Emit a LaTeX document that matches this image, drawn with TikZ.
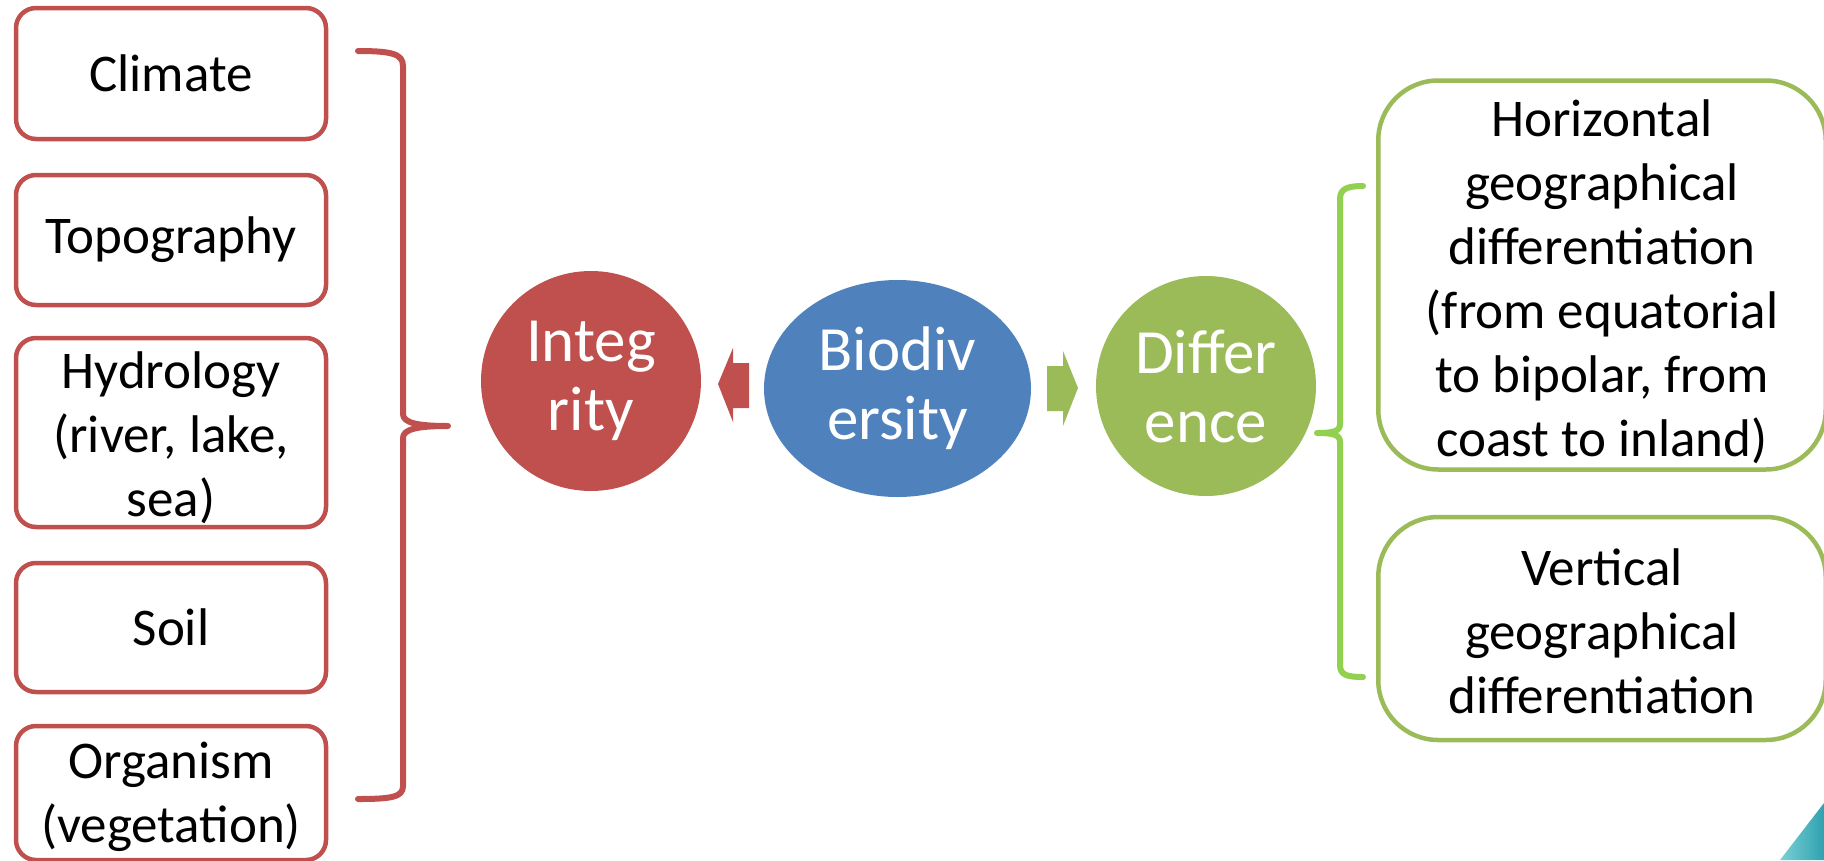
\documentclass[tikz,border=0pt]{standalone}
\usepackage{fontspec}
\setmainfont{Carlito}
\usetikzlibrary{shapes.geometric}
\definecolor{redc}{HTML}{C0504D}
\definecolor{bluec}{HTML}{4F81BD}
\definecolor{greenc}{HTML}{9BBB59}
\definecolor{lightg}{HTML}{92D050}
\definecolor{tealA}{HTML}{7AD0D6}
\definecolor{tealB}{HTML}{2FA2AF}
\begin{document}
\begin{tikzpicture}[x=1pt,y=-1pt,
  factor/.style={draw=redc, line width=4.5pt, rounded corners=20pt,
    minimum width=310pt, align=center, inner sep=0pt,
    font=\fontsize{53}{64}\selectfont},
  zone/.style={draw=greenc, line width=4.5pt, rounded corners=60pt,
    minimum width=447.5pt, align=center, inner sep=0pt,
    font=\fontsize{53}{64}\selectfont},
  words/.style={align=center, inner sep=0pt, font=\fontsize{53}{64}\selectfont},
  hub/.style={text=white, align=center, inner sep=0pt,
    font=\fontsize{63}{69}\selectfont},
  brace/.style={line width=6pt, line cap=round, line join=round}
]
\useasboundingbox (0,0) rectangle (1824,860);

% factors on the left
\node[factor, minimum height=131pt] (climate) at (171,73.5) {Climate};
\node[factor, minimum height=130pt] (topo) at (171,240) {Topography};
\node[factor, minimum height=189pt] (hydro) at (171,432.5) {};
\node[words] (hydrotext) at (171,438) {Hydrology\\(river, lake,\\sea)};
\node[factor, minimum height=129pt] (soil) at (171,627.5) {Soil};
\node[factor, minimum height=134pt] (organism) at (171,793) {};
\node[words] (organismtext) at (171,797) {Organism\\(vegetation)};

% central concepts
\node[hub, circle, fill=redc, minimum size=220pt] (integ) at (591,381) {Integ\\rity};
\node[hub, ellipse, fill=bluec, minimum width=267pt, minimum height=217pt] (bio) at (897.5,388.5) {Biodiv\\ersity};
\node[hub, circle, fill=greenc, minimum size=220pt] (diff) at (1206,386) {Differ\\ence};

% block arrows
\fill[redc] (718,384) -- (733,348) -- (733,363) -- (749,363) -- (749,408)
  -- (733,408) -- (733,422) -- cycle;
\fill[greenc] (1078,388) -- (1063,351) -- (1063,366) -- (1047,366) -- (1047,411)
  -- (1063,411) -- (1063,426) -- cycle;

% differentiation boxes on the right
\node[zone, minimum height=389pt] (horiz) at (1602,275) {};
\node[words] (horiztext) at (1602,282) {Horizontal\\geographical\\differentiation\\(from equatorial\\to bipolar, from\\coast to inland)};
\node[zone, minimum height=223pt] (vert) at (1602,628.5) {};
\node[words] (verttext) at (1602,631) {Vertical\\geographical\\differentiation};

% braces
\draw[redc, brace] (358,51) .. controls (392,51) and (403,54) .. (403,66)
  -- (403,414) .. controls (403,423) and (418,426) .. (448,426)
  .. controls (418,426) and (403,429) .. (403,438)
  -- (403,786) .. controls (403,797) and (392,799) .. (358,799);
\draw[lightg, brace] (1363,186) .. controls (1347,186) and (1340,189) .. (1340,199)
  -- (1340,424) .. controls (1340,431) and (1334,433) .. (1317,433)
  .. controls (1334,433) and (1340,435) .. (1340,442)
  -- (1340,665) .. controls (1340,675) and (1347,677) .. (1363,677);

% corner accent
\shade[left color=tealA, right color=tealB] (1780,860) -- (1824,803) -- (1824,860) -- cycle;
\end{tikzpicture}
\end{document}
